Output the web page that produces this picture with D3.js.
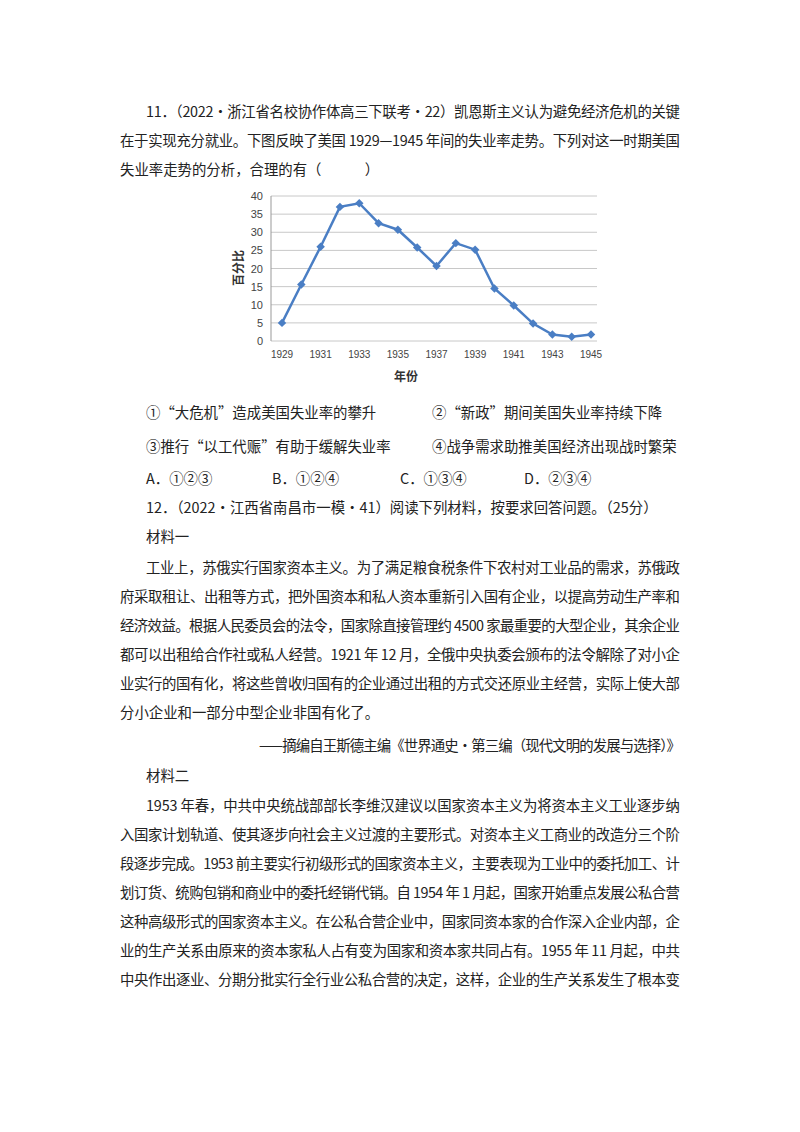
<!DOCTYPE html><html><head><meta charset="utf-8">
<script src="https://cdn.jsdelivr.net/npm/d3@7"></script>
<style>body{margin:0;background:#fff}</style></head><body>
<svg id="s" width="800" height="1132"></svg>
<script>
const years=[1929,1930,1931,1932,1933,1934,1935,1936,1937,1938,1939,1940,1941,1942,1943,1944,1945];
const rates=[5,15.6,26,37,38,32.5,30.7,25.8,20.7,27,25.2,14.5,9.8,4.8,1.8,1.2,1.8];
const yTicks=[0,5,10,15,20,25,30,35,40];
const xTickYears=[1929,1931,1933,1935,1937,1939,1941,1943,1945];
const textLines=[
 [146,112,"11．（2022•浙江省名校协作体高三下联考•22）凯恩斯主义认为避免经济危机的关键",680],
 [120,141,"在于实现充分就业。下图反映了美国 1929—1945 年间的失业率走势。下列对这一时期美国",680],
 [120,170,"失业率走势的分析，合理的有（\u3000\u3000\u3000）",0],
 [146,413,"①“大危机”造成美国失业率的攀升",0],[432,413,"②“新政”期间美国失业率持续下降",0],
 [146,447,"③推行“以工代赈”有助于缓解失业率",0],[432,447,"④战争需求助推美国经济出现战时繁荣",0],
 [146,479,"A．①②③",0],[272,479,"B．①②④",0],[400,479,"C．①③④",0],[524,479,"D．②③④",0],
 [146,508,"12．（2022•江西省南昌市一模•41）阅读下列材料，按要求回答问题。（25分）",0],
 [146,537,"材料一",0],
 [146,568,"工业上，苏俄实行国家资本主义。为了满足粮食税条件下农村对工业品的需求，苏俄政",680],
 [120,597,"府采取租让、出租等方式，把外国资本和私人资本重新引入国有企业，以提高劳动生产率和",680],
 [120,626,"经济效益。根据人民委员会的法令，国家除直接管理约 4500 家最重要的大型企业，其余企业",680],
 [120,655,"都可以出租给合作社或私人经营。1921 年 12 月，全俄中央执委会颁布的法令解除了对小企",680],
 [120,684,"业实行的国有化，将这些曾收归国有的企业通过出租的方式交还原业主经营，实际上使大部",680],
 [120,713,"分小企业和一部分中型企业非国有化了。",0],
 [258,746,"——摘编自王斯德主编《世界通史•第三编（现代文明的发展与选择）》",680],
 [146,776,"材料二",0],
 [146,806,"1953 年春，中共中央统战部部长李维汉建议以国家资本主义为将资本主义工业逐步纳",680],
 [120,835,"入国家计划轨道、使其逐步向社会主义过渡的主要形式。对资本主义工商业的改造分三个阶",680],
 [120,864,"段逐步完成。1953 前主要实行初级形式的国家资本主义，主要表现为工业中的委托加工、计",680],
 [120,893,"划订货、统购包销和商业中的委托经销代销。自 1954 年 1 月起，国家开始重点发展公私合营",680],
 [120,922,"这种高级形式的国家资本主义。在公私合营企业中，国家同资本家的合作深入企业内部，企",680],
 [120,951,"业的生产关系由原来的资本家私人占有变为国家和资本家共同占有。1955 年 11 月起，中共",680],
 [120,980,"中央作出逐业、分期分批实行全行业公私合营的决定，这样，企业的生产关系发生了根本变",680]
];
const svg=d3.select("#s");
svg.selectAll("text.t").data(textLines).join("text").attr("class","t")
 .attr("x",d=>d[0]).attr("y",d=>d[1]+5).attr("font-family","Noto Sans CJK SC").attr("font-size",14.4).attr("fill","#222")
 .each(function(d){if(d[3]){d3.select(this).attr("textLength",d[3]-d[0]).attr("lengthAdjust","spacing");}})
 .text(d=>d[2]);
const x=d3.scaleLinear().domain([1929,1945]).range([282,591]);
const y=d3.scaleLinear().domain([0,40]).range([341,196]);
const g=svg.append("g");
g.selectAll("line.g").data(yTicks).join("line").attr("x1",271).attr("x2",597).attr("y1",d=>y(d)).attr("y2",d=>y(d)).attr("stroke","#c8c8c8").attr("stroke-width",1);
g.append("line").attr("x1",271).attr("x2",271).attr("y1",196).attr("y2",341).attr("stroke","#999");
g.selectAll("text.y").data(yTicks).join("text").attr("x",263).attr("y",d=>y(d)+4).attr("text-anchor","end").attr("font-family","Liberation Sans").attr("font-size",11).attr("fill","#444").text(d=>d);
g.selectAll("text.x").data(xTickYears).join("text").attr("x",d=>x(d)).attr("y",358).attr("text-anchor","middle").attr("font-family","Liberation Sans").attr("font-size",10).attr("fill","#444").text(d=>d);
g.append("text").attr("transform","translate(243,268) rotate(-90)").attr("text-anchor","middle").attr("font-family","Noto Sans CJK SC").attr("font-weight","bold").attr("font-size",12).attr("fill","#333").text("百分比");
g.append("text").attr("x",406).attr("y",381).attr("text-anchor","middle").attr("font-family","Noto Sans CJK SC").attr("font-weight","bold").attr("font-size",12).attr("fill","#333").text("年份");
const pts=years.map((yr,i)=>[yr,rates[i]]);
g.append("path").datum(pts).attr("fill","none").attr("stroke","#4a7ec4").attr("stroke-width",2.5).attr("d",d3.line().x(d=>x(d[0])).y(d=>y(d[1])));
g.selectAll("path.m").data(pts).join("path").attr("d",d3.symbol(d3.symbolSquare,36)).attr("transform",d=>`translate(${x(d[0])},${y(d[1])}) rotate(45)`).attr("fill","#4a7ec4");
</script></body></html>
